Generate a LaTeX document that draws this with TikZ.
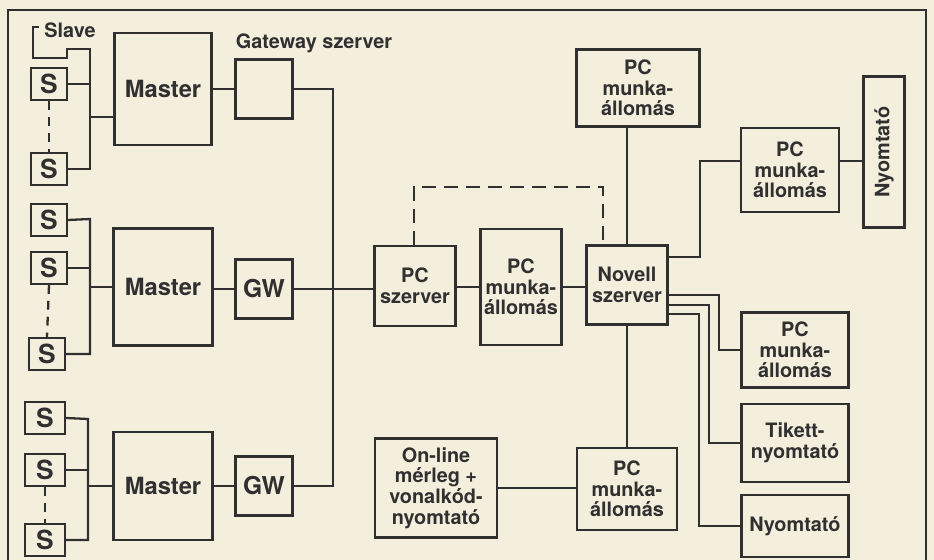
\documentclass[tikz,border=0pt]{standalone}
\usepackage{fontspec}
\setmainfont{TeX Gyre Heros}
\usetikzlibrary{calc}
\definecolor{paper}{RGB}{244,238,221}
\definecolor{ink}{RGB}{48,48,48}
\tikzset{
  unitbox/.style={draw=ink,line width=1.3pt,fill=paper,inner sep=0pt,align=center,text=ink,
    font=\bfseries\fontsize{11.3}{11.8}\selectfont},
  sbox/.style={unitbox,minimum width=0.72cm,minimum height=0.64cm,font=\bfseries\fontsize{15}{15}\selectfont},
  masterbox/.style={unitbox,minimum width=1.98cm,font=\bfseries\fontsize{13.5}{14}\selectfont},
  gwbox/.style={unitbox,minimum width=1.14cm,minimum height=1.18cm,font=\bfseries\fontsize{14}{14}\selectfont},
  link/.style={draw=ink,line width=1.3pt},
  slavelink/.style={link,dash pattern=on 5pt off 4pt},
  netlink/.style={link,dash pattern=on 8pt off 4.5pt},
  tag/.style={text=ink,inner sep=0pt,font=\bfseries\fontsize{11.3}{11.8}\selectfont}
}

\begin{document}
\begin{tikzpicture}[x=0.02cm,y=-0.02cm]
  \fill[paper] (0,0) rectangle (934,560);
  \useasboundingbox (0,0) rectangle (934,560);
  \draw[link] (8,560) -- (8,10) -- (926,10) -- (926,560);

  \node[sbox] (s1a) at (49,84) {S};
  \node[sbox] (s1b) at (49,169) {S};
  \node[masterbox,minimum width=1.94cm,minimum height=2.24cm] (m1) at (163,89) {Master};
  \node[gwbox] (gw1) at (264,89) {};
  \node[tag] (gwlabel) at (314,43) {Gateway szerver};
  \node[tag] (slave) at (70,30) {Slave};

  \node[sbox] (s2a) at (49,220) {S};
  \node[sbox] (s2b) at (49,268) {S};
  \node[sbox] (s2c) at (47,354) {S};
  \node[masterbox,minimum height=2.34cm] (m2) at (163,287) {Master};
  \node[gwbox] (gw2) at (264,289) {GW};

  \node[sbox,minimum width=0.8cm] (s3a) at (45,418) {S};
  \node[sbox,minimum width=0.8cm] (s3b) at (45,470) {S};
  \node[sbox,minimum width=0.8cm] (s3c) at (45,540) {S};
  \node[masterbox,minimum height=2.16cm] (m3) at (163,486) {Master};
  \node[gwbox] (gw3) at (264,486) {GW};

  \node[unitbox,minimum width=1.62cm,minimum height=1.6cm] (pcsrv) at (415,286) {PC\\szerver};
  \node[unitbox,minimum width=1.62cm,minimum height=2.32cm] (pcmid) at (521,287) {PC\\munka-\\állomás};
  \node[unitbox,minimum width=1.62cm,minimum height=1.58cm] (novell) at (627,285) {Novell\\szerver};
  \node[unitbox,minimum width=2.46cm,minimum height=1.54cm] (pctop) at (638,88) {PC\\munka-\\állomás};
  \node[unitbox,minimum width=1.96cm,minimum height=1.68cm] (pcright) at (790,170) {PC\\munka-\\állomás};
  \node[unitbox,rotate=90,minimum width=3.02cm,minimum height=0.82cm] (nyright) at (884,152) {Nyomtató};
  \node[unitbox,minimum width=2.14cm,minimum height=1.5cm] (pclow) at (795,350) {PC\\munka-\\állomás};
  \node[unitbox,minimum width=2.14cm,minimum height=1.56cm] (tikett) at (795,443) {Tikett-\\nyomtató};
  \node[unitbox,minimum width=2.14cm,minimum height=1.24cm] (nylow) at (795,526) {Nyomtató};
  \node[unitbox,minimum width=2.0cm,minimum height=1.64cm] (pcbot) at (627,489) {PC\\munka-\\állomás};
  \node[unitbox,minimum width=2.44cm,minimum height=1.98cm] (online) at (436,488) {On-line\\mérleg +\\vonalkód-\\nyomtató};

  \coordinate (bus1) at (90,49);
  \coordinate (join1) at (90,117);
  \coordinate (bus2) at (90,219);
  \coordinate (bus3) at (88,419);
  \coordinate (trunk) at (333,88);
  \coordinate (dtop) at (603,187);
  \coordinate (r1) at (700,257);
  \coordinate (r1t) at (741,161);
  \coordinate (n1) at (719,295);
  \coordinate (n2) at (709,305);
  \coordinate (n3) at (699,314);

  \draw[link] (39,27) -- (33,27) -- (33,58) -- (67,58) -- (67,49) -- (bus1) |- (s1b.east);
  \draw[link] (s1a.east) -- (s1a.east -| bus1);
  \draw[link] (join1) -- (join1 -| m1.west);
  \draw[slavelink] (s1a.south) -- (s1b.north);

  \draw[link] (s2a.east) -- (bus2) |- (s2c.east);
  \draw[link] (s2b.east) -- (s2b.east -| bus2);
  \draw[link] (m2.west -| bus2) -- (m2.west);
  \draw[slavelink] (s2b.south) -- (s2c.north);

  \draw[link] (s3a.east) -- (bus3) |- (s3c.east);
  \draw[link] (s3b.east) -- (s3b.east -| bus3);
  \draw[link] (m3.west -| bus3) -- (m3.west);
  \draw[slavelink] (s3b.south) -- (s3c.north);

  \draw[link] (m1.east |- gw1.west) -- (gw1.west);
  \draw[link] (m2.east |- gw2.west) -- (gw2.west);
  \draw[link] (m3.east |- gw3.west) -- (gw3.west);
  \draw[link] (gw1.east) -| (trunk |- gw3.east) -- (gw3.east);
  \draw[link] (gw2.east) -- (gw2.east -| pcsrv.west);

  \draw[link] (pcsrv.east |- pcmid.west) -- (pcmid.west);
  \draw[link] (pcmid.east) -- (pcmid.east -| novell.west);
  \draw[netlink] (pcsrv.north -| 414,0) |- (dtop) -- (dtop |- novell.north);
  \draw[link] (novell.north) -- (novell.north |- pctop.south);
  \draw[link] (novell.east |- r1) -- (r1) |- (r1t);
  \draw[link] (pcright.east |- r1t) -- (nyright.north |- r1t);
  \draw[link] (novell.east |- n1) -- (n1) |- (pclow.west);
  \draw[link] (novell.east |- n2) -- (n2) |- (tikett.west);
  \draw[link] (novell.east |- n3) -- (n3) |- (nylow.west);
  \draw[link] (novell.south) -- (pcbot.north);
  \draw[link] (online.east) -- (online.east -| pcbot.west);
\end{tikzpicture}
\end{document}
